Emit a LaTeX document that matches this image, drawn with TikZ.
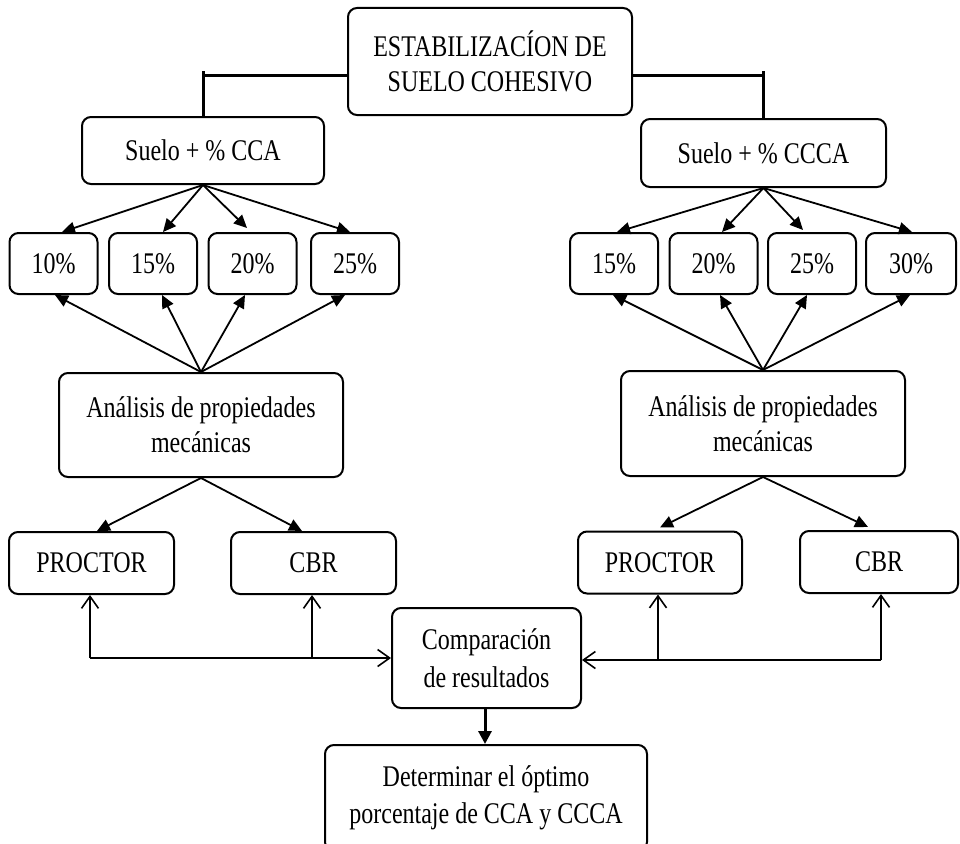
\documentclass[tikz,border=0pt]{standalone}
\usepackage{fontspec}
\setmainfont{Liberation Serif}[FakeStretch=0.8]
\usetikzlibrary{arrows.meta}
\begin{document}
\begin{tikzpicture}[x=1pt,y=-1pt,
  box/.style={draw, line width=2pt, rounded corners=9pt, inner sep=0pt, align=center,
              font=\fontsize{30}{35}\selectfont},
  pbox/.style={box, minimum width=88pt, minimum height=61pt},
  tbox/.style={box, minimum width=164pt, minimum height=62pt},
  arr/.style={line width=1.8pt, -{Triangle[length=13pt,width=12pt]}},
  oarr/.style={line width=1.6pt, -{Straight Barb[length=12pt,width=17pt]}},
  plain/.style={line width=1.8pt},
  tee/.style={line width=3pt}]
\useasboundingbox (0,0) rectangle (960,843);

% nodes
\node[box, minimum width=284pt, minimum height=107pt] (top) at (490,61.5) {ESTABILIZACÍON DE\\SUELO COHESIVO};
\node[box, minimum width=242pt, minimum height=67pt] (sca) at (203,150.5) {Suelo + \% CCA};
\node[box, minimum width=245pt, minimum height=68pt] (scc) at (763.5,153) {Suelo + \% CCCA};

\node[pbox] (p10) at (53.5,263.5) {10\%};
\node[pbox] (p15) at (153,263.5) {15\%};
\node[pbox] (p20) at (252.5,263.5) {20\%};
\node[pbox] (p25) at (355,263.5) {25\%};

\node[pbox] (q15) at (614,263.5) {15\%};
\node[pbox] (q20) at (713.5,263.5) {20\%};
\node[pbox] (q25) at (812,263.5) {25\%};
\node[pbox, minimum width=90pt] (q30) at (911,263.5) {30\%};

\node[box, minimum width=284pt, minimum height=104pt] (anl) at (201,425) {Análisis de propiedades\\mecánicas};
\node[box, minimum width=284pt, minimum height=105pt] (anr) at (763,423.5) {Análisis de propiedades\\mecánicas};

\node[tbox, minimum width=165pt] (prl) at (91.5,563) {PROCTOR};
\node[tbox, minimum width=165pt] (cbl) at (313.5,563) {CBR};
\node[tbox] (prr) at (660,562.5) {PROCTOR};
\node[tbox, minimum width=158pt] (cbr) at (879,562) {CBR};

\node[box, minimum width=189pt, minimum height=100pt, font=\fontsize{30}{38}\selectfont] (cmp) at (486.5,658) {Comparación\\de resultados};
\node[box, minimum width=322pt, minimum height=106pt, font=\fontsize{30}{37}\selectfont] (det) at (486,798) {Determinar el óptimo\\porcentaje de CCA y CCCA};

% top tee connectors
\coordinate (tl) at (201,75);
\coordinate (tr) at (763,75);
\draw[tee] (top.west |- tl) -- (tl -| sca.north);
\draw[tee] ([yshift=4pt]tl -| sca.north) -- (sca.north);
\draw[tee] (top.east |- tr) -- (tr -| scc.north);
\draw[tee] ([yshift=4pt]tr -| scc.north) -- (scc.north);

% Suelo -> percentages
\draw[arr] (sca.south) -- ([xshift=8.5pt]p10.north);
\draw[arr] (sca.south) -- ([xshift=10pt]p15.north);
\draw[arr] (sca.south) -- ([xshift=-5.5pt,yshift=4pt]p20.north);
\draw[arr] (sca.south) -- ([xshift=-5pt]p25.north);

\draw[arr] (scc.south) -- ([xshift=3pt]q15.north);
\draw[arr] (scc.south) -- ([xshift=8.5pt]q20.north);
\draw[arr] (scc.south) -- ([xshift=-9pt,yshift=2pt]q25.north);
\draw[arr] (scc.south) -- ([xshift=1pt]q30.north);

% Analisis -> percentages
\draw[arr] (anl.north) -- ([xshift=1.5pt]p10.south);
\draw[arr] (anl.north) -- ([xshift=9pt]p15.south);
\draw[arr] (anl.north) -- ([xshift=-7.5pt]p20.south);
\draw[arr] (anl.north) -- ([xshift=-10pt]p25.south);

\draw[arr] (anr.north) -- ([xshift=-1pt]q15.south);
\draw[arr] (anr.north) -- ([xshift=6.5pt]q20.south);
\draw[arr] (anr.north) -- ([xshift=-5pt]q25.south);
\draw[arr] (anr.north) -- ([xshift=-1pt]q30.south);

% Analisis -> tests
\draw[arr] (anl.south) -- ([xshift=5.5pt]prl.north);
\draw[arr] (anl.south) -- ([xshift=-11.5pt]cbl.north);
\draw[arr] (anr.south) -- ([yshift=3pt]prr.north);
\draw[arr] (anr.south) -- ([xshift=-11pt,yshift=3pt]cbr.north);

% tests <-> comparison
\coordinate (bl) at ([xshift=-1.5pt]prl.south |- cmp.west);
\coordinate (ml) at ([xshift=-1.5pt]cbl.south |- cmp.west);
\draw[plain] (bl) -- (ml);
\draw[oarr] (ml) -- (cmp.west);
\draw[oarr] (bl) -- ([xshift=-1.5pt]prl.south);
\draw[oarr] (ml) -- ([xshift=-1.5pt]cbl.south);

\coordinate (br) at ([xshift=2pt,yshift=-2pt]cbr.south |- cmp.east);
\coordinate (mr) at ([xshift=-2pt,yshift=-2pt]prr.south |- cmp.east);
\draw[plain] (br) -- (mr);
\draw[oarr] (mr) -- ([yshift=-2pt]cmp.east);
\draw[oarr] (br) -- ([xshift=2pt]cbr.south);
\draw[oarr] (mr) -- ([xshift=-2pt]prr.south);

% comparison -> result
\draw[line width=3pt, -{Triangle[length=13pt,width=13pt]}] ([xshift=-1.5pt]cmp.south) -- ([xshift=-1pt]det.north);
\end{tikzpicture}
\end{document}
